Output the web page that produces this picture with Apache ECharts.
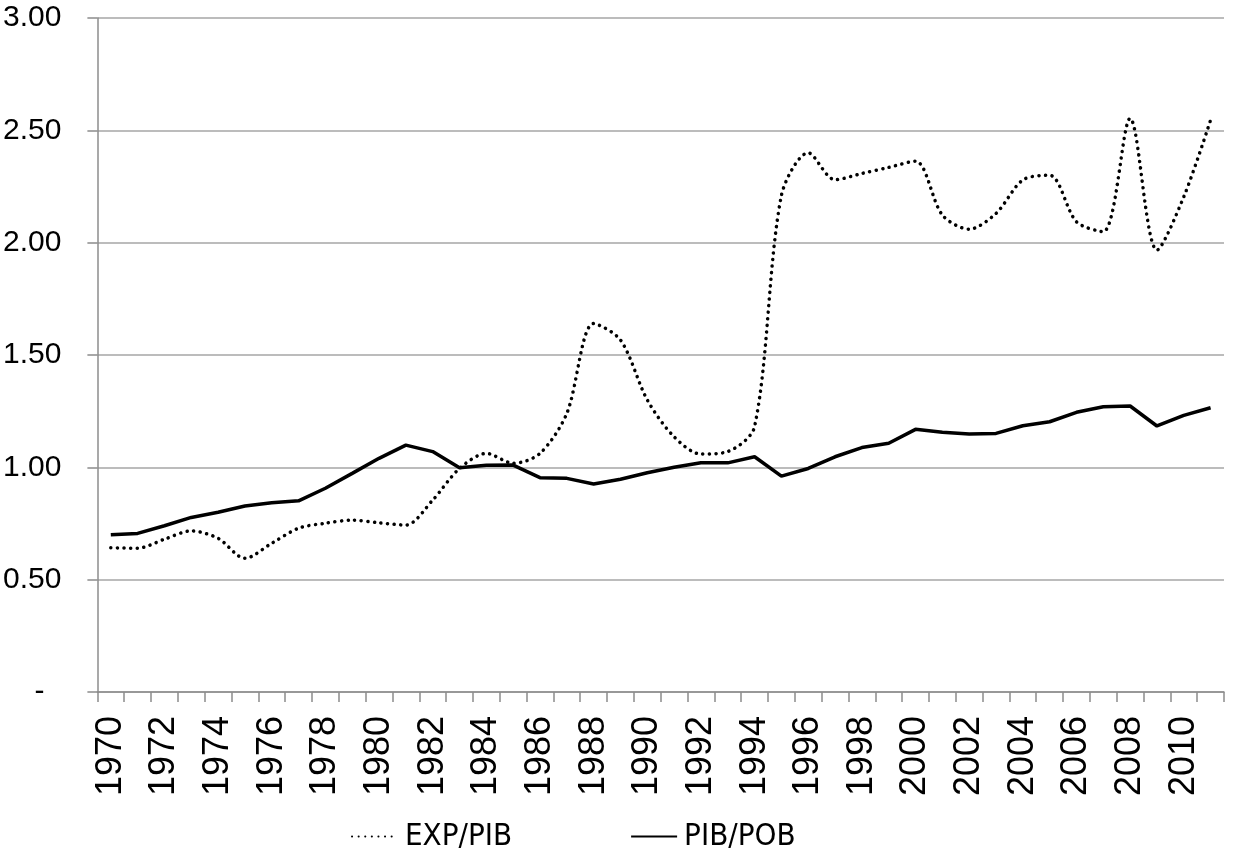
<!DOCTYPE html>
<html>
<head>
<meta charset="utf-8">
<script src="https://cdn.jsdelivr.net/npm/echarts@6/dist/echarts.min.js"></script>
<style>
  html, body { margin: 0; padding: 0; background: #fff; }
  #chart { width: 1236px; height: 862px; }
</style>
</head>
<body>
<div id="chart"></div>
<script>
// años
var years = [];
for (var y = 1970; y <= 2011; y++) years.push(String(y));

// EXP/PIB (punteada)
var expPib = [0.642, 0.64, 0.68, 0.717, 0.684, 0.595, 0.662, 0.729, 0.751, 0.765,
  0.753, 0.743, 0.854, 0.995, 1.062, 1.018, 1.062, 1.24, 1.64, 1.567,
  1.30, 1.136, 1.059, 1.07, 1.181, 2.21, 2.40, 2.28, 2.308, 2.335,
  2.363, 2.123, 2.06, 2.13, 2.279, 2.30, 2.093, 2.049, 2.553, 1.967,
  2.204, 2.546];

// PIB/POB (continua)
var pibPob = [0.70, 0.706, 0.74, 0.777, 0.80, 0.828, 0.842, 0.851, 0.907, 0.973,
  1.04, 1.099, 1.07, 0.998, 1.009, 1.01, 0.954, 0.951, 0.926, 0.947,
  0.976, 1.0, 1.02, 1.02, 1.047, 0.961, 0.995, 1.047, 1.088, 1.107,
  1.169, 1.156, 1.148, 1.151, 1.185, 1.203, 1.245, 1.27, 1.273, 1.184,
  1.231, 1.265];

var myChart = echarts.init(document.getElementById("chart"));
myChart.setOption({
  animation: false,
  textStyle: { fontFamily: "Liberation Sans", color: "#000" },
  grid: { left: 96, right: 12, top: 18, bottom: 170, containLabel: false },
  legend: {
    left: 346,
    top: 816,
    itemWidth: 46,
    itemHeight: 14,
    itemGap: 118,
    itemStyle: { opacity: 0 },
    textStyle: {
      fontFamily: "'Liberation Sans Narrow', 'DejaVu Sans Condensed', 'Roboto Condensed', sans-serif",
      fontSize: 31,
      color: "#000",
      padding: [0, 0, 0, 2],
    },
    data: ["EXP/PIB", "PIB/POB"],
  },
  xAxis: {
    type: "category",
    data: years,
    boundaryGap: true,
    axisLine: { show: true, lineStyle: { color: "#8c8c8c", width: 1.5 } },
    axisTick: { show: true, interval: 0, length: 10, lineStyle: { color: "#8c8c8c", width: 1.5 } },
    axisLabel: {
      interval: 1,
      rotate: 90,
      margin: 24,
      fontSize: 36,
      color: "#000",
    },
    splitLine: { show: false },
  },
  yAxis: {
    type: "value",
    min: 0,
    max: 3,
    interval: 0.5,
    axisLine: { show: true, lineStyle: { color: "#8c8c8c", width: 1.5 } },
    axisTick: { show: true, length: 10, lineStyle: { color: "#8c8c8c", width: 1.5 } },
    splitLine: { show: true, lineStyle: { color: "#a6a6a6", width: 1.5 } },
    axisLabel: {
      margin: 36,
      fontSize: 30,
      color: "#000",
      formatter: function (v) {
        return v === 0 ? "{d|-}" : v.toFixed(2);
      },
      rich: { d: { fontSize: 30, color: "#000", padding: [0, 17, 0, 0] } },
    },
  },
  series: [
    {
      name: "EXP/PIB",
      type: "line",
      data: expPib,
      symbol: "none",
      smooth: 0.3,
      lineStyle: { color: "#000", width: 3.5, type: [0.1, 6.5], cap: "round" },
      itemStyle: { color: "#000" },
    },
    {
      name: "PIB/POB",
      type: "line",
      data: pibPob,
      symbol: "none",
      lineStyle: { color: "#000", width: 3.5, type: "solid" },
      itemStyle: { color: "#000" },
    },
  ],
});
</script>
</body>
</html>
